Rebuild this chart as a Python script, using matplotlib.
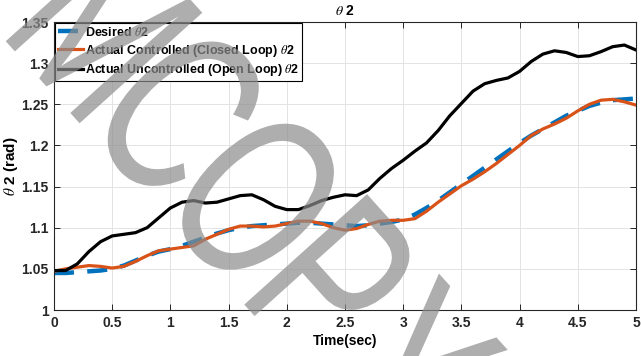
import matplotlib
matplotlib.use("Agg")
import matplotlib.pyplot as plt
from matplotlib.textpath import TextPath
from matplotlib.patches import PathPatch
from matplotlib.font_manager import FontProperties
from matplotlib.transforms import Affine2D, IdentityTransform

plt.rcParams['font.family'] = ['Liberation Sans', 'DejaVu Sans']
plt.rcParams['mathtext.fontset'] = 'stix'

# data
time = [0.0, 0.1, 0.2, 0.3, 0.4, 0.5, 0.6, 0.7, 0.8, 0.9,
        1.0, 1.1, 1.2, 1.3, 1.4, 1.5, 1.6, 1.7, 1.8, 1.9,
        2.0, 2.1, 2.2, 2.3, 2.4, 2.5, 2.6, 2.7, 2.8, 2.9,
        3.0, 3.1, 3.2, 3.3, 3.4, 3.5, 3.6, 3.7, 3.8, 3.9,
        4.0, 4.1, 4.2, 4.3, 4.4, 4.5, 4.6, 4.7, 4.8, 4.9, 5.0]

desired = [1.045, 1.045, 1.046, 1.047, 1.048, 1.050, 1.054, 1.060, 1.066, 1.071,
           1.074, 1.078, 1.083, 1.088, 1.093, 1.097, 1.100, 1.102, 1.103, 1.104,
           1.105, 1.106, 1.106, 1.105, 1.104, 1.103, 1.102, 1.103, 1.105, 1.107,
           1.110, 1.116, 1.124, 1.133, 1.143, 1.153, 1.163, 1.173, 1.183, 1.193,
           1.203, 1.212, 1.220, 1.228, 1.236, 1.242, 1.248, 1.252, 1.255, 1.256, 1.257]

closed_loop = [1.047, 1.050, 1.052, 1.054, 1.053, 1.051, 1.053, 1.059, 1.066, 1.072,
               1.074, 1.076, 1.078, 1.086, 1.092, 1.098, 1.102, 1.102, 1.101, 1.102,
               1.105, 1.108, 1.108, 1.105, 1.100, 1.097, 1.099, 1.104, 1.108, 1.109,
               1.109, 1.111, 1.120, 1.131, 1.141, 1.151, 1.159, 1.168, 1.178, 1.189,
               1.200, 1.212, 1.220, 1.226, 1.233, 1.242, 1.250, 1.255, 1.256, 1.253, 1.249]

open_loop = [1.048, 1.048, 1.056, 1.071, 1.083, 1.090, 1.092, 1.094, 1.100, 1.112,
             1.124, 1.131, 1.133, 1.130, 1.131, 1.135, 1.139, 1.140, 1.134, 1.126,
             1.122, 1.122, 1.127, 1.133, 1.137, 1.140, 1.139, 1.146, 1.160, 1.172,
             1.182, 1.193, 1.203, 1.218, 1.236, 1.251, 1.266, 1.275, 1.279, 1.282,
             1.290, 1.302, 1.311, 1.315, 1.313, 1.308, 1.309, 1.314, 1.320, 1.322, 1.316]

xticks = [0, 0.5, 1, 1.5, 2, 2.5, 3, 3.5, 4, 4.5, 5]
yticks = [1, 1.05, 1.1, 1.15, 1.2, 1.25, 1.3, 1.35]

W, H = 641, 356
fig = plt.figure(figsize=(W / 100, H / 100), dpi=100)
ax = fig.add_axes([0.0842, 0.1292, 0.908, 0.809])

ax.plot(time, desired, color='#0072BD', lw=3.2, dashes=(4.5, 3),
        label=r'Desired $\theta$2')
ax.plot(time, closed_loop, color='#D95319', lw=2.3,
        label=r'Actual Controlled (Closed Loop) $\theta$2')
ax.plot(time, open_loop, color='black', lw=2.3,
        label=r'Actual Uncontrolled (Open Loop) $\theta$2')

ax.set_xlim(0, 5)
ax.set_ylim(1, 1.35)
ax.set_xticks(xticks)
ax.set_xticklabels([f'{v:g}' for v in xticks])
ax.set_yticks(yticks)
ax.set_yticklabels([f'{v:g}' for v in yticks])
ax.grid(True, color='#e3e3e3', lw=0.7)
ax.set_axisbelow(True)
ax.tick_params(direction='in', top=True, right=True, length=4, width=0.7,
               labelsize=10, color='#262626', pad=4)
for lab in ax.get_xticklabels() + ax.get_yticklabels():
    lab.set_fontweight('bold')
    lab.set_color('#262626')
for s in ax.spines.values():
    s.set_linewidth(0.8)
    s.set_color('#262626')

ax.set_xlabel('Time(sec)', fontsize=10, fontweight='bold', labelpad=3)
ax.set_ylabel(r'$\theta$ 2 (rad)', fontsize=11, fontweight='bold')
ax.yaxis.set_label_coords(-0.058, 0.5)
ax.set_title(r'$\theta$ 2', fontsize=10, fontweight='bold', pad=5)

leg = ax.legend(loc='upper left', prop={'weight': 'bold', 'size': 9},
                frameon=True, fancybox=False, edgecolor='black', framealpha=1,
                borderaxespad=0.1, borderpad=0.2, handlelength=2.0,
                handletextpad=0.2, labelspacing=0.3)
leg.get_frame().set_linewidth(0.8)

# grey watermark: tall narrow letters running diagonally over the chart
fp = FontProperties(family='Liberation Sans')
for i, ch in enumerate('MCOPY'):
    tp = TextPath((0, 0), ch, size=1, prop=fp)
    ext = tp.get_extents()
    cx, cy = (ext.x0 + ext.x1) / 2, (ext.y0 + ext.y1) / 2
    px = 258 + (i - 2) * 77
    py = H - (197 + (i - 2) * 85)
    tr = (Affine2D().translate(-cx, -cy).scale(165, 240)
          .rotate_deg(-48).translate(px, py))
    fig.add_artist(PathPatch(tr.transform_path(tp), facecolor='#8c8c8c',
                             edgecolor='none', alpha=0.7,
                             transform=IdentityTransform(), zorder=10))

fig.savefig('out.png', dpi=100)
